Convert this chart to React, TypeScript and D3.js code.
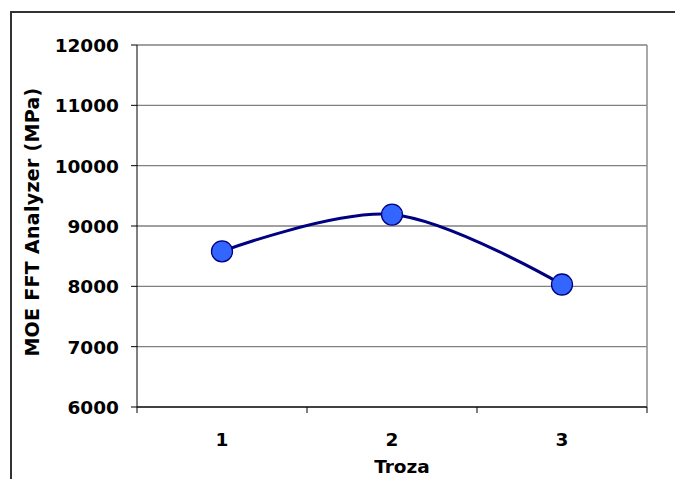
import React from "react";
import * as d3 from "d3";

const categories = ["1", "2", "3"];
const moeValues = [8580, 9190, 8030];
const yTicks = [6000, 7000, 8000, 9000, 10000, 11000, 12000];

const W = 675;
const H = 479;
const plot = { left: 137, top: 45, right: 647, bottom: 407 };
const font = "'DejaVu Sans', Verdana, sans-serif";

export default function App() {
  const x = d3
    .scaleBand<string>()
    .domain(categories)
    .range([plot.left, plot.right])
    .paddingInner(0)
    .paddingOuter(0);
  const y = d3.scaleLinear().domain([6000, 12000]).range([plot.bottom, plot.top]);

  const pts: [number, number][] = categories.map((c, i) => [
    (x(c) as number) + x.bandwidth() / 2,
    y(moeValues[i]),
  ]);
  const line = d3.line().curve(d3.curveCatmullRom.alpha(0.5))(pts) as string;

  const boundaries = categories.map((c) => x(c) as number).concat([plot.right]);

  return (
    <svg
      width={W}
      height={H}
      style={{ position: "absolute", left: 0, top: 0, background: "#fff" }}
    >
      {/* chart frame */}
      <rect x={11} y={12} width={W + 10} height={H + 10} fill="#fff" stroke="#333" strokeWidth={2} />

      {/* gridlines */}
      {yTicks.map((t) => (
        <line key={t} x1={plot.left} x2={plot.right} y1={y(t)} y2={y(t)} stroke="#808080" strokeWidth={1.3} />
      ))}
      <line x1={plot.right} x2={plot.right} y1={plot.top} y2={plot.bottom} stroke="#8c8c8c" strokeWidth={1.5} />

      {/* axes */}
      <line x1={plot.left} x2={plot.left} y1={plot.top} y2={plot.bottom} stroke="#000" strokeWidth={1} />
      <line x1={plot.left} x2={plot.right} y1={plot.bottom} y2={plot.bottom} stroke="#222" strokeWidth={1.5} />
      {yTicks.map((t) => (
        <line key={"t" + t} x1={plot.left - 6} x2={plot.left} y1={y(t)} y2={y(t)} stroke="#000" strokeWidth={1} />
      ))}
      {boundaries.map((b, i) => (
        <line key={"b" + i} x1={b} x2={b} y1={plot.bottom} y2={plot.bottom + 6} stroke="#000" strokeWidth={1} />
      ))}

      {/* tick labels */}
      {yTicks.map((t) => (
        <text
          key={"l" + t}
          x={119}
          y={y(t)}
          dy="0.37em"
          textAnchor="end"
          fontFamily={font}
          fontWeight="bold"
          fontSize={18.5}
        >
          {t}
        </text>
      ))}
      {categories.map((c) => (
        <text
          key={"c" + c}
          x={(x(c) as number) + x.bandwidth() / 2}
          y={446}
          textAnchor="middle"
          fontFamily={font}
          fontWeight="bold"
          fontSize={18.5}
        >
          {c}
        </text>
      ))}

      {/* axis titles */}
      <text x={402} y={473} textAnchor="middle" fontFamily={font} fontWeight="bold" fontSize={18.5}>
        Troza
      </text>
      <text
        transform="translate(39,222) rotate(-90)"
        textAnchor="middle"
        fontFamily={font}
        fontWeight="bold"
        fontSize={19}
        letterSpacing={0.3}
      >
        MOE FFT Analyzer (MPa)
      </text>

      {/* series */}
      <path d={line} fill="none" stroke="#000080" strokeWidth={3} />
      {pts.map(([px, py], i) => (
        <circle key={"p" + i} cx={px} cy={py} r={10.5} fill="#3366ff" stroke="#000080" strokeWidth={1.3} />
      ))}
    </svg>
  );
}
